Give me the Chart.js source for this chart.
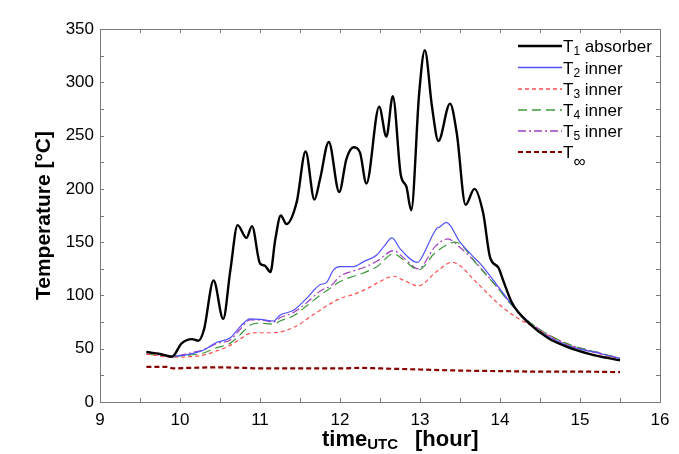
<!DOCTYPE html>
<html>
<head>
<meta charset="utf-8">
<title>Temperature</title>
<script src="https://cdn.jsdelivr.net/npm/chart.js@4.4.0/dist/chart.umd.min.js"></script>
<style>
    html, body { margin: 0; padding: 0; background: #fff; }
    #wrap { width: 679px; height: 454px; position: relative; }
</style>
</head>
<body>
<div id="wrap"><canvas id="lineChart"></canvas></div>
<script>
// Data (time in hours UTC, temperature in °C)
var t1Time = [9.58, 9.75, 9.90, 10.02, 10.15, 10.23, 10.30, 10.42, 10.54, 10.63, 10.72, 10.83, 10.90, 11.00, 11.06, 11.13, 11.19, 11.26, 11.33, 11.46, 11.57, 11.68, 11.75, 11.86, 11.99, 12.08, 12.17, 12.25, 12.33, 12.49, 12.58, 12.66, 12.76, 12.83, 12.89, 12.99, 13.06, 13.15, 13.23, 13.375, 13.46, 13.57, 13.68, 13.79, 13.875, 13.98, 14.04, 14.15, 14.375, 14.6, 14.83, 15.125, 15.5];
var t1Temp = [47, 45, 42.5, 55, 59, 57.5, 68, 114, 78, 124, 166, 154, 165, 130, 128, 122, 152, 175, 167, 188, 235, 190, 209, 244, 197, 228, 239, 234, 205, 277, 249, 287, 213, 202, 180, 290, 330, 277, 245, 280, 252, 185, 200, 177, 136, 126, 114, 93, 73, 60, 52, 45, 39];

var t2Time = [9.58, 9.75, 9.90, 10.125, 10.29, 10.46, 10.625, 10.75, 10.875, 11.0, 11.17, 11.25, 11.42, 11.58, 11.75, 11.83, 11.92, 12.0, 12.17, 12.29, 12.46, 12.55, 12.65, 12.75, 12.97, 13.0, 13.21, 13.24, 13.33, 13.5, 13.67, 13.75, 13.96, 14.17, 14.42, 14.83, 15.25, 15.5];
var t2Temp = [47, 45, 43, 45, 48.5, 56, 60, 70.5, 78, 77.5, 76, 81.5, 86, 97, 110, 112, 124, 127, 127, 131.5, 138, 146, 154, 144, 131, 133, 163, 164, 168.5, 150, 136, 130, 110, 89.5, 70.5, 53.5, 45.5, 41];

var t3Time = [9.58, 9.90, 10.125, 10.29, 10.46, 10.625, 10.75, 10.875, 11.0, 11.17, 11.42, 11.67, 11.83, 12.0, 12.17, 12.33, 12.5, 12.67, 12.8, 12.98, 13.2, 13.4, 13.5, 13.67, 14.08, 14.5, 14.83, 15.25, 15.5];
var t3Temp = [45, 42, 42.5, 44, 48, 53, 59, 64.5, 65, 65, 70, 82, 90, 97, 101, 106, 113, 118, 114, 109, 122, 131, 128, 115, 86, 67, 54, 45, 40];

var t4Time = [9.58, 9.90, 10.125, 10.29, 10.46, 10.625, 10.75, 10.875, 11.0, 11.17, 11.25, 11.42, 11.58, 11.75, 11.9, 12.0, 12.17, 12.29, 12.46, 12.67, 12.8, 12.98, 13.19, 13.44, 13.55, 13.67, 13.96, 14.17, 14.42, 14.83, 15.25, 15.5];
var t4Temp = [45, 43, 44, 46, 51, 55, 63, 72, 74, 73, 76, 81, 90, 100, 108, 113, 118, 121, 127, 139, 133, 124, 140, 150, 145, 133, 108, 89, 72, 55, 46, 41];

var t5Time = [9.58, 9.90, 10.125, 10.29, 10.46, 10.625, 10.75, 10.875, 11.0, 11.17, 11.25, 11.42, 11.58, 11.75, 11.9, 12.0, 12.17, 12.29, 12.46, 12.67, 12.8, 12.98, 13.19, 13.35, 13.5, 13.67, 13.96, 14.17, 14.42, 14.83, 15.25, 15.5];
var t5Temp = [46, 43, 46, 49, 55, 58, 68, 77, 77, 75, 79, 84, 93, 104, 110, 118, 123, 126, 132, 142, 135, 125, 146, 153, 145, 133, 108, 89, 72, 55, 46, 41];

var tInfTime = [9.58, 9.83, 9.92, 10.1, 10.5, 10.8, 11.0, 11.5, 12.0, 12.25, 12.5, 13.0, 13.5, 14.0, 14.5, 15.0, 15.5];
var tInfTemp = [33, 33, 31.5, 32, 32.5, 32, 31.5, 31.5, 31.5, 32, 31.5, 30.5, 29.5, 29, 28.5, 28.5, 28];

// Axis ticks
var xTicks = [9, 10, 11, 12, 13, 14, 15, 16];
var yTicks = [0, 50, 100, 150, 200, 250, 300, 350];

// Legend labels: main text, subscript, suffix
var legendMain = ['T', 'T', 'T', 'T', 'T', 'T'];
var legendSub = ['1', '2', '3', '4', '5', '\u221E'];
var legendSuffix = [' absorber', ' inner', ' inner', ' inner', ' inner', ''];

function toPoints(xs, ys) {
    return xs.map(function (x, i) { return { x: x, y: ys[i] }; });
}

function makeSet(label, xs, ys, color, width, dash) {
    return {
        label: label,
        data: toPoints(xs, ys),
        borderColor: color,
        backgroundColor: color,
        borderWidth: width,
        borderDash: dash,
        showLine: true,
        pointRadius: 0,
        cubicInterpolationMode: 'monotone',
        fill: false
    };
}

var datasets = [
    makeSet('T1 absorber', t1Time, t1Temp, '#000000', 2.4, []),
    makeSet('T2 inner', t2Time, t2Temp, '#5050ff', 1.2, []),
    makeSet('T3 inner', t3Time, t3Temp, '#ff5050', 1.2, [4, 3]),
    makeSet('T4 inner', t4Time, t4Temp, '#3c9a3c', 1.2, [9, 5]),
    makeSet('T5 inner', t5Time, t5Temp, '#a33fbf', 1.2, [8, 3, 2, 3]),
    makeSet('T\u221E', tInfTime, tInfTemp, '#8b0000', 2.2, [5, 3])
];

var FONT = '"Liberation Sans", Arial, sans-serif';

// Frame, inward ticks, axis titles and legend
var decorations = {
    id: 'decorations',
    afterDraw: function (chart) {
        var ctx = chart.ctx;
        var a = chart.chartArea;
        var xs = chart.scales.x;
        var ys = chart.scales.y;
        var v, px, py;

        ctx.save();
        ctx.strokeStyle = '#7a7a7a';
        ctx.lineWidth = 1;
        ctx.setLineDash([]);
        ctx.strokeRect(a.left + 0.5, a.top + 0.5, a.right - a.left, a.bottom - a.top);

        ctx.beginPath();
        for (v = 9; v <= 16; v += 0.5) {
            px = Math.round(xs.getPixelForValue(v)) + 0.5;
            ctx.moveTo(px, a.bottom);
            ctx.lineTo(px, a.bottom - 4);
            ctx.moveTo(px, a.top);
            ctx.lineTo(px, a.top + 4);
        }
        for (v = 0; v <= 350; v += 25) {
            py = Math.round(ys.getPixelForValue(v)) + 0.5;
            ctx.moveTo(a.left, py);
            ctx.lineTo(a.left + 4, py);
            ctx.moveTo(a.right, py);
            ctx.lineTo(a.right - 4, py);
        }
        ctx.stroke();

        // x title: time_UTC [hour]
        ctx.fillStyle = '#000';
        ctx.textBaseline = 'alphabetic';
        ctx.textAlign = 'left';
        ctx.font = 'bold 22px ' + FONT;
        var tx = 322;
        ctx.fillText('time', tx, 446);
        tx += ctx.measureText('time').width;
        ctx.font = 'bold 15px ' + FONT;
        ctx.fillText('UTC', tx, 449);
        ctx.font = 'bold 22px ' + FONT;
        ctx.fillText('[hour]', 415, 446);

        // y title
        ctx.save();
        ctx.translate(50, (a.top + a.bottom) / 2);
        ctx.rotate(-Math.PI / 2);
        ctx.textAlign = 'center';
        ctx.font = 'bold 21px ' + FONT;
        ctx.fillText('Temperature [\u00B0C]', 0, 0);
        ctx.restore();

        // legend
        var rowY = [46, 67.5, 89, 110, 131, 152];
        chart.data.datasets.forEach(function (ds, i) {
            var y = rowY[i];
            ctx.strokeStyle = ds.borderColor;
            ctx.lineWidth = Math.max(ds.borderWidth, 1.4);
            ctx.setLineDash(ds.borderDash);
            ctx.beginPath();
            ctx.moveTo(518, y);
            ctx.lineTo(562, y);
            ctx.stroke();
            ctx.setLineDash([]);

            var x = 563;
            var base = y + 6;
            ctx.fillStyle = '#000';
            ctx.font = '17px ' + FONT;
            ctx.fillText(legendMain[i], x, base);
            x += ctx.measureText(legendMain[i]).width;
            if (legendSub[i] === '\u221E') {
                ctx.font = '17px ' + FONT;
                ctx.fillText(legendSub[i], x, base + 9);
            } else {
                ctx.font = '12px ' + FONT;
                ctx.fillText(legendSub[i], x, base + 3);
            }
            x += ctx.measureText(legendSub[i]).width;
            ctx.font = '17px ' + FONT;
            ctx.fillText(legendSuffix[i], x, base);
        });
        ctx.restore();
    }
};

var ctx = document.getElementById('lineChart').getContext('2d');
new Chart(ctx, {
    type: 'scatter',
    data: { datasets: datasets },
    options: {
        responsive: true,
        maintainAspectRatio: false,
        animation: false,
        layout: { padding: { top: 29, right: 19, left: 0, bottom: 0 } },
        plugins: {
            legend: { display: false },
            tooltip: { enabled: false }
        },
        scales: {
            x: {
                type: 'linear',
                min: 9,
                max: 16,
                afterBuildTicks: function (scale) {
                    scale.ticks = xTicks.map(function (v) { return { value: v }; });
                },
                afterFit: function (scale) { scale.height = 52; },
                grid: { display: false, drawTicks: false },
                border: { display: false },
                ticks: {
                    color: '#000',
                    padding: 8,
                    maxRotation: 0,
                    font: { family: FONT, size: 17 }
                }
            },
            y: {
                type: 'linear',
                min: 0,
                max: 350,
                afterBuildTicks: function (scale) {
                    scale.ticks = yTicks.map(function (v) { return { value: v }; });
                },
                afterFit: function (scale) { scale.width = 100; },
                grid: { display: false, drawTicks: false },
                border: { display: false },
                ticks: {
                    color: '#000',
                    padding: 6,
                    font: { family: FONT, size: 17 }
                }
            }
        }
    },
    plugins: [decorations]
});
</script>
</body>
</html>
